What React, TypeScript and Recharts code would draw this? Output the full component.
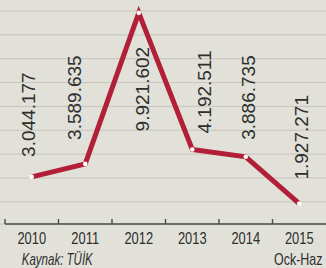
import React from 'react';
import { LineChart, Line, XAxis, YAxis, CartesianGrid, LabelList } from 'recharts';

const years = ['2010', '2011', '2012', '2013', '2014', '2015'];
const subLabels = ['', '', '', '', '', 'Ock-Haz'];
const values = [3044177, 3589635, 9921602, 4192511, 3886735, 1927271];
const valueLabels = ['3.044.177', '3.589.635', '9.921.602', '4.192.511', '3.886.735', '1.927.271'];
const gridTicks = [2000000, 3000000, 4000000, 5000000, 6000000, 7000000, 8000000, 9000000, 10000000];
const sourceNote = 'Kaynak: TÜİK';

// label styling (offsets relative to the point)
const labelDx = [-3.5, -11.5, 3, 12, 2.5, 1.5];
const labelGap = [20, 24, 34, 16, 17, 24];
const labelBelow = [false, false, true, false, false, false];

const data = years.map((y, i) => ({ year: y, value: values[i] }));

const LINE = '#b21f38';
const TEXT = '#2e2e2e';
const AXIS = '#4a4a4a';
const SANS = "'Liberation Sans', Arial, sans-serif";

const ValueLabel = (props: any) => {
  const { x, y, index } = props;
  const cx = x + labelDx[index] + 7;
  const below = labelBelow[index];
  const by = below ? y + labelGap[index] : y - labelGap[index];
  return (
    <text
      x={cx}
      y={by}
      transform={`rotate(-90 ${cx} ${by})`}
      textAnchor={below ? 'end' : 'start'}
      fontSize={19}
      fontFamily={SANS}
      fill={TEXT}
    >
      {valueLabels[index]}
    </text>
  );
};

const NarrowText = ({ x, y, sx, anchor, size, italic, children }: any) => (
  <text
    x={0}
    y={0}
    transform={`translate(${x} ${y}) scale(${sx} 1)`}
    textAnchor={anchor}
    fontSize={size}
    fontStyle={italic ? 'italic' : 'normal'}
    fontFamily={SANS}
    fill={TEXT}
  >
    {children}
  </text>
);

const YearTick = (props: any) => {
  const { x, y, payload, index } = props;
  const off = payload && typeof payload.offset === 'number' && payload.offset > 0 ? payload.offset : 26.75;
  return (
    <g>
      <line x1={x - off} x2={x + off} y1={y} y2={y} stroke={AXIS} strokeWidth={1.6} />
      <line x1={x - off} x2={x - off} y1={y} y2={y - 5} stroke={AXIS} strokeWidth={1.4} />
      <NarrowText x={x} y={y + 20} sx={0.76} anchor="middle" size={17}>
        {payload.value}
      </NarrowText>
      {subLabels[index] ? (
        <NarrowText x={x - 1} y={y + 41} sx={0.78} anchor="middle" size={16}>
          {subLabels[index]}
        </NarrowText>
      ) : null}
      {index === 0 ? (
        <NarrowText x={x - 10} y={y + 41} sx={0.72} anchor="start" size={16} italic>
          {sourceNote}
        </NarrowText>
      ) : null}
    </g>
  );
};

export default function App() {
  return (
    <div style={{ position: 'absolute', left: 0, top: 0, width: 326, height: 268, background: '#e2e1d9' }}>
      <LineChart width={326} height={268} data={data} margin={{ top: 11, right: 0, left: 0, bottom: 0 }}>
        <CartesianGrid vertical={false} stroke="#c6c5bd" strokeWidth={1} />
        <YAxis hide type="number" domain={[1070000, 10000000]} ticks={gridTicks} />
        <XAxis
          dataKey="year"
          scale="band"
          height={44}
          padding={{ left: 5, right: 0 }}
          axisLine={false}
          tickLine={false}
          tickSize={0}
          tickMargin={0}
          interval={0}
          tick={<YearTick />}
        />
        <Line
          type="linear"
          dataKey="value"
          stroke={LINE}
          strokeWidth={5}
          strokeLinejoin="miter"
          dot={{ r: 2.3, fill: '#ffffff', stroke: '#ffffff', strokeWidth: 0 }}
          isAnimationActive={false}
        >
          <LabelList dataKey="value" content={<ValueLabel />} />
        </Line>
      </LineChart>
    </div>
  );
}
